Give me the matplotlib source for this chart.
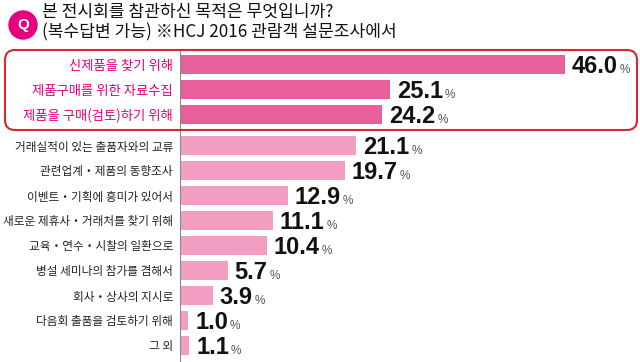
import matplotlib.pyplot as plt
from matplotlib.patches import FancyBboxPatch, Circle

# 본 전시회를 참관하신 목적 (복수답변, %)
labels = [
    "신제품을 찾기 위해",
    "제품구매를 위한 자료수집",
    "제품을 구매(검토)하기 위해",
    "거래실적이 있는 출품자와의 교류",
    "관련업계・제품의 동향조사",
    "이벤트・기획에 흥미가 있어서",
    "새로운 제휴사・거래처를 찾기 위해",
    "교육・연수・시찰의 일환으로",
    "병설 세미나의 참가를 겸해서",
    "회사・상사의 지시로",
    "다음회 출품을 검토하기 위해",
    "그 외",
]
values = [46.0, 25.1, 24.2, 21.1, 19.7, 12.9, 11.1, 10.4, 5.7, 3.9, 1.0, 1.1]
n_top = 3

title1 = "본 전시회를 참관하신 목적은 무엇입니까?"
title2 = "(복수답변 가능) ※HCJ 2016 관람객 설문조사에서"

plt.rcParams['font.family'] = ['Noto Sans CJK KR', 'DejaVu Sans']

W, H = 640, 362
fig = plt.figure(figsize=(W / 100, H / 100), dpi=100)
ax = fig.add_axes([180 / W, 0, 460 / W, 312 / H])

gap = 0.24
y = [i + (gap if i >= n_top else 0) for i in range(len(values))]
colors = ['#E8609A' if i < n_top else '#F29EC3' for i in range(len(values))]
ax.barh(y, values, height=0.76, color=colors)
ax.set_xlim(0, 55)
ax.set_ylim(y[-1] + 0.66, -0.58)

for s in ['top', 'right', 'bottom']:
    ax.spines[s].set_visible(False)
ax.spines['left'].set_color('#8a8a8a')
ax.spines['left'].set_linewidth(0.8)
ax.set_xticks([])
ax.set_yticks(y)
ax.set_yticklabels(labels)
ax.tick_params(axis='y', length=0, pad=5)
for i, lab in enumerate(ax.get_yticklabels()):
    if i < n_top:
        lab.set_color('#E4007F')
        lab.set_fontsize(9.6)
    else:
        lab.set_color('#222222')
        lab.set_fontsize(8.4)

for yi, v in zip(y, values):
    t = ax.annotate(f'{v:.1f}', xy=(v, yi), xytext=(5, -6.1), textcoords='offset points',
                    va='baseline', ha='left', fontsize=17, fontweight='bold',
                    family='Liberation Sans', color='#111111')
    ax.annotate('%', xy=(1, 0), xycoords=t, xytext=(1.2, 3.6), textcoords='offset points',
                va='baseline', ha='left', fontsize=8.5, color='#555555',
                family='Liberation Sans')

# 강조 영역 테두리
box = FancyBboxPatch((0.05, (H - 130) / 100), 6.32, 0.80,
                     boxstyle='round,pad=0,rounding_size=0.1',
                     transform=fig.dpi_scale_trans, fill=False,
                     edgecolor='#D7282F', linewidth=1.5)
fig.patches.append(box)

# Q 마크
q = Circle((0.23, (H - 25) / 100), 0.14, transform=fig.dpi_scale_trans,
           color='#E4007F')
fig.patches.append(q)
fig.text(23 / W, 1 - 25 / H, "Q", ha='center', va='center', color='white',
         fontsize=11, fontweight='bold', family='Liberation Sans')

fig.text(42 / W, 1 - 12 / H, title1, ha='left', va='center', fontsize=12.3, color='#111111')
fig.text(42 / W, 1 - 32 / H, title2, ha='left', va='center', fontsize=12.3, color='#111111')

fig.savefig('out.png', dpi=100)
